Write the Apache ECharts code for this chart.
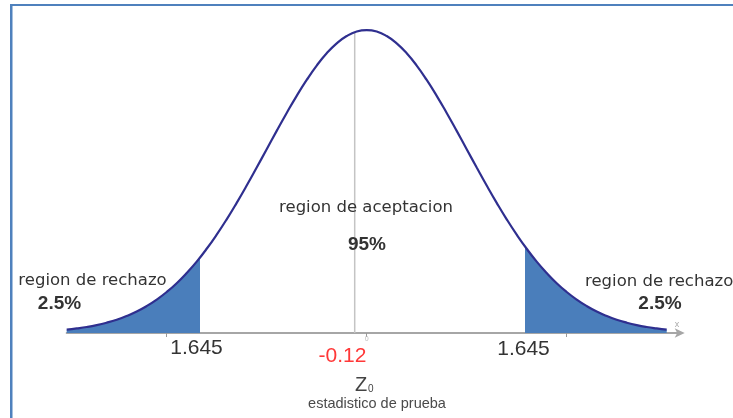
<!DOCTYPE html>
<html>
<head>
<meta charset="utf-8">
<script src="https://cdn.jsdelivr.net/npm/echarts@6/dist/echarts.min.js"></script>
<style>html,body{margin:0;padding:0;background:#fff;}#c{width:733px;height:418px;}</style>
</head>
<body>
<div id="c"></div>
<script>
// z values and the density
var zValues = [-3, -2.9, -2.8, -2.7, -2.6, -2.5, -2.4, -2.3, -2.2, -2.1, -2, -1.9, -1.8, -1.7, -1.6, -1.5, -1.4, -1.3, -1.2, -1.1, -1, -0.9, -0.8, -0.7, -0.6, -0.5, -0.4, -0.3, -0.2, -0.1, 0, 0.1, 0.2, 0.3, 0.4, 0.5, 0.6, 0.7, 0.8, 0.9, 1, 1.1, 1.2, 1.3, 1.4, 1.5, 1.6, 1.7, 1.8, 1.9, 2, 2.1, 2.2, 2.3, 2.4, 2.5, 2.6, 2.7, 2.8, 2.9, 3];
var density = [0.0044, 0.0060, 0.0079, 0.0104, 0.0136, 0.0175, 0.0224, 0.0283, 0.0355, 0.0440, 0.0540, 0.0656, 0.0790, 0.0940, 0.1109, 0.1295, 0.1497, 0.1714, 0.1942, 0.2179, 0.2420, 0.2661, 0.2897, 0.3123, 0.3332, 0.3521, 0.3683, 0.3814, 0.3910, 0.3970, 0.3989, 0.3970, 0.3910, 0.3814, 0.3683, 0.3521, 0.3332, 0.3123, 0.2897, 0.2661, 0.2420, 0.2179, 0.1942, 0.1714, 0.1497, 0.1295, 0.1109, 0.0940, 0.0790, 0.0656, 0.0540, 0.0440, 0.0355, 0.0283, 0.0224, 0.0175, 0.0136, 0.0104, 0.0079, 0.0060, 0.0044];
// rejection tails (shaded)
var leftTailZ = [-3, -2.9, -2.8, -2.7, -2.6, -2.5, -2.4, -2.3, -2.2, -2.1, -2, -1.9, -1.8, -1.7, -1.667];
var leftTailD = [0.0044, 0.0060, 0.0079, 0.0104, 0.0136, 0.0175, 0.0224, 0.0283, 0.0355, 0.0440, 0.0540, 0.0656, 0.0790, 0.0940, 0.0994];
var rightTailZ = [1.583, 1.6, 1.7, 1.8, 1.9, 2, 2.1, 2.2, 2.3, 2.4, 2.5, 2.6, 2.7, 2.8, 2.9, 3];
var rightTailD = [0.1142, 0.1109, 0.0940, 0.0790, 0.0656, 0.0540, 0.0440, 0.0355, 0.0283, 0.0224, 0.0175, 0.0136, 0.0104, 0.0079, 0.0060, 0.0044];
// test statistic
var z0 = -0.12;
var z0Density = 0.3961;
var tickValues = [-2, 0, 2];
var labels = {
  accept: 'region de aceptacion', acceptPct: '95%',
  reject: 'region de rechazo', rejectPct: '2.5%',
  crit: '1.645', z0: '-0.12', zName: 'Z', zSub: '0', stat: 'estadistico de prueba'
};

function pairs(xs, ys) { return xs.map(function (x, i) { return [x, ys[i]]; }); }

var chart = echarts.init(document.getElementById('c'), null, { renderer: 'canvas' });
var txt = function (x, y, text, font, fill, align) {
  return { type: 'text', x: x, y: y, z: 100, style: { text: text, font: font, fill: fill, align: align || 'center', verticalAlign: 'middle' } };
};
chart.setOption({
  animation: false,
  backgroundColor: '#ffffff',
  grid: { left: 66.7, right: 52.3, top: 29.2, bottom: 85, outerBoundsMode: 'none' },
  xAxis: {
    type: 'value', min: -3, max: 3.14,
    splitLine: { show: false },
    axisLine: { show: true, lineStyle: { color: '#a6a6a6', width: 2 }, symbol: ['none', 'arrow'], symbolSize: [7, 10], symbolOffset: [0, 4] },
    axisTick: { show: true, customValues: tickValues, length: 4, lineStyle: { color: '#999', width: 1 } },
    axisLabel: { show: true, customValues: [0], fontSize: 7, color: '#bbbbbb', margin: 3 }
  },
  yAxis: { type: 'value', min: 0, max: 0.4, show: false },
  series: [
    { type: 'line', data: pairs(leftTailZ, leftTailD), smooth: true, symbol: 'none', lineStyle: { width: 0 }, areaStyle: { color: '#4a7ebb', opacity: 1 }, z: 2 },
    { type: 'line', data: pairs(rightTailZ, rightTailD), smooth: true, symbol: 'none', lineStyle: { width: 0 }, areaStyle: { color: '#4a7ebb', opacity: 1 }, z: 2 },
    { type: 'line', data: [[z0, 0], [z0, z0Density]], symbol: 'none', lineStyle: { color: '#c4c4c4', width: 1.5 }, z: 1 },
    { type: 'line', data: pairs(zValues, density), smooth: true, symbol: 'none', lineStyle: { color: '#2f2f8f', width: 2.2 }, z: 5 }
  ],
  graphic: [
    { type: 'rect', shape: { x: 10, y: 4, width: 723, height: 2 }, style: { fill: '#4f81bd' } },
    { type: 'rect', shape: { x: 10, y: 4, width: 2.5, height: 414 }, style: { fill: '#4f81bd' } },
    txt(366, 208, labels.accept, '16.5px "DejaVu Sans"', '#333333'),
    txt(367, 245, labels.acceptPct, 'bold 19px "Liberation Sans"', '#333333'),
    txt(92.5, 281, labels.reject, '16.5px "DejaVu Sans"', '#333333'),
    txt(59.5, 304, labels.rejectPct, 'bold 19px "Liberation Sans"', '#333333'),
    txt(585, 281.5, labels.reject, '16.5px "DejaVu Sans"', '#333333', 'left'),
    txt(660, 304, labels.rejectPct, 'bold 19px "Liberation Sans"', '#333333'),
    txt(196.5, 348, labels.crit, '21px "Liberation Sans"', '#333333'),
    txt(523.5, 349, labels.crit, '21px "Liberation Sans"', '#333333'),
    txt(342.5, 356.5, labels.z0, '21px "Liberation Sans"', '#ff3838'),
    txt(355, 385, labels.zName, '20px "Liberation Sans"', '#444444', 'left'),
    txt(368, 389, labels.zSub, '10px "Liberation Sans"', '#444444', 'left'),
    txt(377, 404, labels.stat, '14.5px "Liberation Sans"', '#4a4a4a'),
    txt(677, 325, 'x', '9px "Liberation Sans"', '#aaaaaa')
  ]
});
</script>
</body>
</html>
